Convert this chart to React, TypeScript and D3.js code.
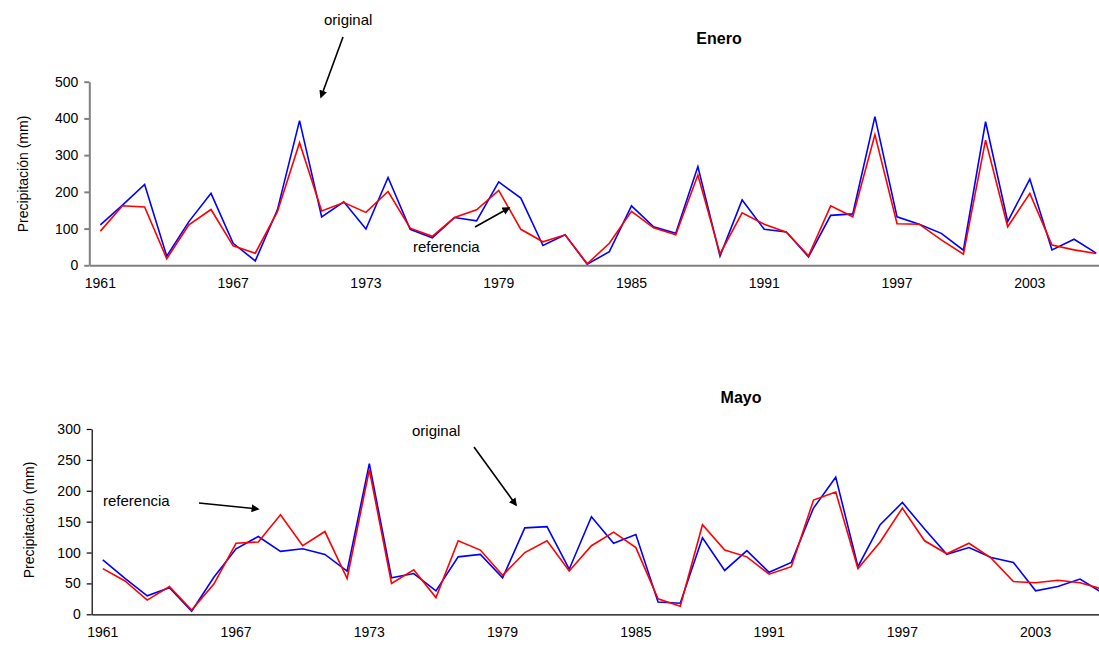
import React, { useEffect, useRef } from "react";
import * as d3 from "d3";

// Years of record
const years: number[] = d3.range(1961, 2007);

// Tick labels shown on the category axis
const yearLabels: number[] = [1961, 1967, 1973, 1979, 1985, 1991, 1997, 2003];

// January precipitation (mm)
const eneroOriginal: number[] = [
  110, 164, 220, 25, 119, 196, 60, 12, 151, 394,
  132, 173, 99, 239, 98, 75, 130, 121, 227, 183,
  54, 83, 3, 37, 162, 105, 87, 269, 25, 178,
  98, 91, 23, 136, 140, 405, 132, 112, 87, 41,
  391, 119, 235, 42, 71, 33,
];
const eneroReferencia: number[] = [
  93, 162, 159, 18, 110, 152, 53, 33, 146, 334,
  148, 171, 144, 201, 101, 79, 130, 151, 204, 98,
  64, 83, 4, 60, 147, 102, 83, 246, 31, 143,
  112, 90, 26, 162, 132, 356, 113, 112, 69, 30,
  341, 105, 196, 55, 42, 32,
];

// May precipitation (mm)
const mayoOriginal: number[] = [
  88, 58, 30, 43, 5, 60, 106, 126, 102, 106,
  97, 70, 244, 59, 66, 38, 93, 97, 59, 140,
  142, 73, 158, 115, 129, 20, 18, 124, 71, 103,
  68, 84, 172, 222, 77, 145, 181, 138, 97, 108,
  92, 84, 38, 45, 57, 35,
];
const mayoReferencia: number[] = [
  74, 54, 23, 45, 7, 49, 115, 117, 161, 111,
  134, 58, 234, 50, 72, 27, 119, 104, 63, 100,
  119, 70, 111, 133, 108, 25, 13, 145, 104, 93,
  65, 77, 185, 198, 74, 117, 172, 119, 98, 115,
  91, 53, 51, 55, 51, 41,
];

const eneroTicks: number[] = [0, 100, 200, 300, 400, 500];
const mayoTicks: number[] = [0, 50, 100, 150, 200, 250, 300];

const FONT = "Arial, 'Liberation Sans', sans-serif";

type Note = { text: string; tx: number; ty: number; x1: number; y1: number; x2: number; y2: number };

type PanelProps = {
  title: string;
  titleX: number;
  titleY: number;
  original: number[];
  referencia: number[];
  yMax: number;
  ticks: number[];
  left: number;
  step: number;
  top: number;
  bottom: number;
  axisColor: string;
  axisWidth: number;
  labelY: number;
  labelX: number;
  notes: Note[];
};

function Panel(p: PanelProps) {
  const yAxisRef = useRef<SVGGElement>(null);
  const xAxisRef = useRef<SVGGElement>(null);

  const x = d3
    .scaleBand<number>()
    .domain(years)
    .range([p.left, p.left + years.length * p.step])
    .padding(0);
  const cx = (yr: number) => (x(yr) as number) + x.bandwidth() / 2;
  const y = d3.scaleLinear().domain([0, p.yMax]).range([p.bottom, p.top]);

  const line = d3
    .line<number>()
    .x((_, i) => cx(years[i]))
    .y((v) => y(v));

  useEffect(() => {
    if (yAxisRef.current) {
      const g = d3.select(yAxisRef.current);
      g.selectAll("*").remove();
      g.call(d3.axisLeft(y).tickValues(p.ticks).tickSize(5).tickSizeOuter(0).tickPadding(6).tickFormat(d3.format("d")));
      g.select(".domain").attr("stroke", p.axisColor).attr("stroke-width", p.axisWidth);
      g.selectAll(".tick line").attr("stroke", p.axisColor).attr("stroke-width", p.axisWidth);
      g.selectAll(".tick text").attr("font-size", 14).attr("font-family", FONT).attr("fill", "#000");
    }
    if (xAxisRef.current) {
      const g = d3.select(xAxisRef.current);
      g.selectAll("*").remove();
      g.call(d3.axisBottom(x).tickValues(yearLabels).tickSize(0).tickPadding(13).tickFormat(d3.format("d")));
      g.select(".domain").attr("stroke", p.axisColor).attr("stroke-width", p.axisWidth);
      g.selectAll(".tick text").attr("font-size", 14).attr("font-family", FONT).attr("fill", "#000");
    }
  });

  return (
    <g>
      <text x={p.titleX} y={p.titleY} textAnchor="middle" fontFamily={FONT} fontWeight="bold" fontSize={16}>
        {p.title}
      </text>
      <text
        transform={`translate(${p.labelX},${p.labelY}) rotate(-90)`}
        textAnchor="middle"
        dominantBaseline="middle"
        fontFamily={FONT}
        fontSize={14}
      >
        Precipitación (mm)
      </text>
      <g ref={xAxisRef} transform={`translate(0,${p.bottom})`} />
      <g ref={yAxisRef} transform={`translate(${p.left},0)`} />
      <path d={line(p.original) || ""} fill="none" stroke="#0000ff" strokeWidth={1.6} strokeLinejoin="miter" />
      <path d={line(p.referencia) || ""} fill="none" stroke="#ff0000" strokeWidth={1.6} strokeLinejoin="miter" />
      {p.notes.map((n, i) => (
        <g key={i}>
          <text x={n.tx} y={n.ty} fontFamily={FONT} fontSize={15} dominantBaseline="middle">
            {n.text}
          </text>
          <line x1={n.x1} y1={n.y1} x2={n.x2} y2={n.y2} stroke="#000" strokeWidth={1.6} markerEnd="url(#arrowHead)" />
        </g>
      ))}
    </g>
  );
}

export default function App() {
  return (
    <svg
      width={1099}
      height={646}
      style={{ position: "absolute", left: 0, top: 0, background: "#fff" }}
    >
      <defs>
        <marker id="arrowHead" viewBox="0 0 10 10" refX="8" refY="5" markerWidth="5" markerHeight="5" orient="auto">
          <path d="M0,0 L10,5 L0,10 z" fill="#000" />
        </marker>
      </defs>
      <rect width={1099} height={646} fill="#fff" />
      <Panel
        title="Enero"
        titleX={719}
        titleY={44}
        original={eneroOriginal}
        referencia={eneroReferencia}
        yMax={500}
        ticks={eneroTicks}
        left={89.3}
        step={22.13}
        top={81.7}
        bottom={265.3}
        axisColor="#808080"
        axisWidth={2}
        labelX={24}
        labelY={174}
        notes={[
          { text: "original", tx: 324, ty: 21, x1: 343, y1: 37, x2: 321, y2: 97 },
          { text: "referencia", tx: 413, ty: 248, x1: 475, y1: 227, x2: 509, y2: 208 },
        ]}
      />
      <Panel
        title="Mayo"
        titleX={741}
        titleY={403}
        original={mayoOriginal}
        referencia={mayoReferencia}
        yMax={300}
        ticks={mayoTicks}
        left={91.7}
        step={22.21}
        top={429}
        bottom={614.3}
        axisColor="#000"
        axisWidth={1.2}
        labelX={30}
        labelY={520}
        notes={[
          { text: "original", tx: 412, ty: 432, x1: 474, y1: 447, x2: 516, y2: 505 },
          { text: "referencia", tx: 103, ty: 502, x1: 199, y1: 503, x2: 258, y2: 509 },
        ]}
      />
    </svg>
  );
}
